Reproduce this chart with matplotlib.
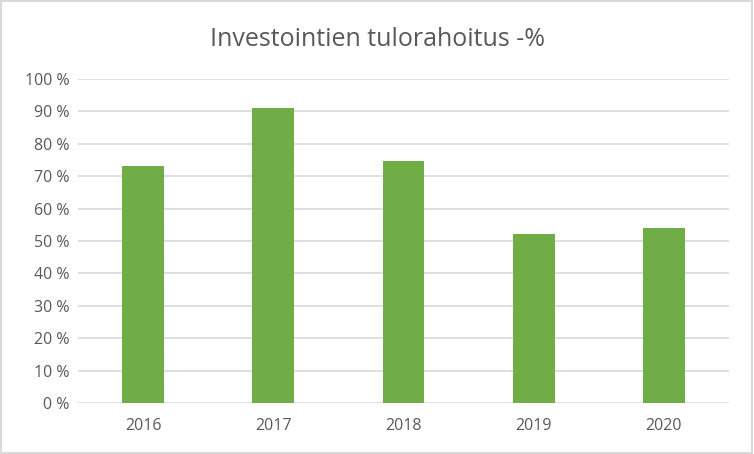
import matplotlib
matplotlib.use("Agg")
import matplotlib.pyplot as plt
from matplotlib.patches import Rectangle
from matplotlib.ticker import FuncFormatter

years = ["2016", "2017", "2018", "2019", "2020"]
values = [73.1, 91.0, 74.7, 52.1, 54.0]

plt.rcParams["font.family"] = ["Open Sans", "DejaVu Sans"]
text_color = "#595959"
grid_color = "#d9d9d9"

fig = plt.figure(figsize=(7.54, 4.54), dpi=100)
ax = fig.add_axes([78 / 754, 1 - 403 / 454, (729 - 78) / 754, (403 - 79) / 454])

x = list(range(len(years)))
ax.bar(x, values, width=0.32, color="#70ad47", zorder=3)

ax.set_xlim(-0.5, len(years) - 0.5)
ax.set_ylim(0, 100)
ax.set_yticks(range(0, 101, 10))
ax.yaxis.set_major_formatter(FuncFormatter(lambda v, p: f"{int(v)} %"))
ax.set_xticks(x)
ax.set_xticklabels(years)

ax.grid(axis="y", color=grid_color, linewidth=1.2, zorder=0)
for s in ax.spines.values():
    s.set_visible(False)
ax.tick_params(length=0, colors=text_color, labelsize=11.5)
ax.tick_params(axis="x", pad=11)
ax.tick_params(axis="y", pad=6)

fig.text(0.5, 1 - 40 / 454, "Investointien tulorahoitus -%", ha="center", va="center",
         fontsize=18, color=text_color)

fig.patches.append(Rectangle((0.001, 0.002), 0.997, 0.995, transform=fig.transFigure,
                             fill=False, edgecolor=grid_color, linewidth=1.5))

fig.savefig("out.png", dpi=100)
